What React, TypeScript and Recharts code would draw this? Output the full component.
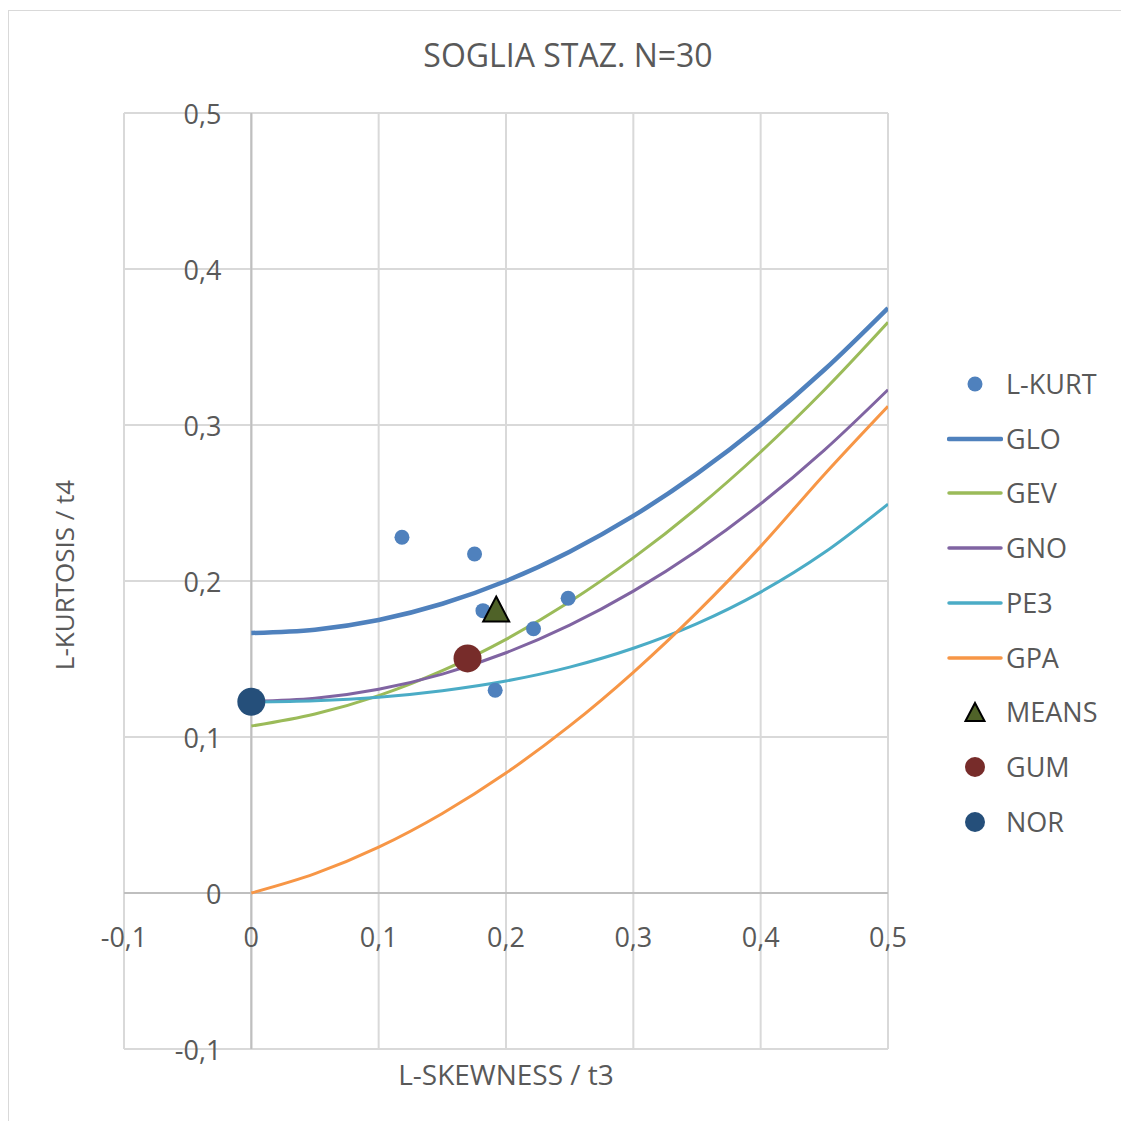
import React from 'react';
import {
  ComposedChart,
  Line,
  Scatter,
  XAxis,
  YAxis,
  CartesianGrid,
  ReferenceLine,
} from 'recharts';

// ---------- data ----------
const T3 = [0, 0.05, 0.1, 0.15, 0.2, 0.25, 0.3, 0.35, 0.4, 0.45, 0.5];
const GLO = [0.1667, 0.1688, 0.175, 0.1854, 0.2, 0.2188, 0.2417, 0.2688, 0.3, 0.3354, 0.375];
const GEV = [0.107, 0.1147, 0.1265, 0.1425, 0.1626, 0.1867, 0.2148, 0.2468, 0.2827, 0.3224, 0.3658];
const GNO = [0.1228, 0.1248, 0.1306, 0.1403, 0.154, 0.1717, 0.1935, 0.2194, 0.2495, 0.2839, 0.3226];
const PE3 = [0.1224, 0.1232, 0.1255, 0.1297, 0.1359, 0.1448, 0.1569, 0.1727, 0.1929, 0.2182, 0.2493];
const GPA = [0, 0.0124, 0.0294, 0.051, 0.0769, 0.1071, 0.1415, 0.1799, 0.2222, 0.2683, 0.312];

const LKURT_T3 = [0.1183, 0.1753, 0.1819, 0.1915, 0.2216, 0.2488];
const LKURT_T4 = [0.228, 0.2173, 0.181, 0.13, 0.1694, 0.1889];
const MEANS = [{ x: 0.1923, y: 0.182 }];
const GUM = [{ x: 0.1698, y: 0.1504 }];
const NOR = [{ x: 0, y: 0.1226 }];

const X_TICKS = [-0.1, 0, 0.1, 0.2, 0.3, 0.4, 0.5];
const Y_TICKS = [-0.1, 0, 0.1, 0.2, 0.3, 0.4, 0.5];

const TITLE = 'SOGLIA STAZ. N=30';
const X_TITLE = 'L-SKEWNESS / t3';
const Y_TITLE = 'L-KURTOSIS / t4';

// ---------- styling / layout ----------
const FONT = '"Open Sans", sans-serif';
const TEXT = '#595959';
const C_LKURT = '#4F81BD';
const C_GLO = '#4F81BD';
const C_GEV = '#9BBB59';
const C_GNO = '#8064A2';
const C_PE3 = '#4BACC6';
const C_GPA = '#F79646';
const C_MEANS = '#4F6228';
const C_GUM = '#772C2A';
const C_NOR = '#254F7A';

const W = 1112;
const H = 1110;
const M = { top: 102, right: 233, bottom: 71, left: 114 };
const AX_Y_W = 1;
const AX_X_H = 1;
const PLOT_L = M.left + AX_Y_W;
const PLOT_W = W - PLOT_L - M.right;
const PLOT_H = H - M.top - M.bottom - AX_X_H;
const X_MIN = -0.1, X_MAX = 0.5, Y_MIN = -0.1, Y_MAX = 0.5;
const ZERO_X = PLOT_L + (PLOT_W * (0 - X_MIN)) / (X_MAX - X_MIN);
const ZERO_Y = M.top + (PLOT_H * (Y_MAX - 0)) / (Y_MAX - Y_MIN);

const fmt = (v: number) => String(Math.round(v * 10) / 10).replace('.', ',');

const curve = (ys: number[]) => T3.map((x, i) => ({ x, y: ys[i] }));
const lkurt = LKURT_T3.map((x, i) => ({ x, y: LKURT_T4[i] }));

const XTick = (props: any) => (
  <text
    x={props.x}
    y={ZERO_Y + 43}
    textAnchor="middle"
    dominantBaseline="central"
    fontFamily={FONT}
    fontSize={27}
    fill={TEXT}
  >
    {fmt(props.payload.value)}
  </text>
);

const YTick = (props: any) => (
  <text
    x={ZERO_X - 30}
    y={props.y}
    textAnchor="end"
    dominantBaseline="central"
    fontFamily={FONT}
    fontSize={27}
    fill={TEXT}
  >
    {fmt(props.payload.value)}
  </text>
);

const XTitle = (props: any) => {
  const vb = props.viewBox || {};
  return (
    <text
      x={vb.x + vb.width / 2}
      y={vb.y + 25}
      textAnchor="middle"
      dominantBaseline="central"
      fontFamily={FONT}
      fontSize={28}
      fill={TEXT}
    >
      {X_TITLE}
    </text>
  );
};

const YTitle = (props: any) => {
  const vb = props.viewBox || {};
  const cx = vb.x + vb.width - 60;
  const cy = vb.y + vb.height / 2 - 6;
  return (
    <text
      x={cx}
      y={cy}
      textAnchor="middle"
      dominantBaseline="central"
      transform={`rotate(-90 ${cx} ${cy})`}
      fontFamily={FONT}
      fontSize={26}
      fill={TEXT}
    >
      {Y_TITLE}
    </text>
  );
};

const dotShape = (r: number, fill: string) => (props: any) => (
  <circle cx={props.cx} cy={props.cy} r={r} fill={fill} />
);

const triShape = (props: any) => {
  const { cx, cy } = props;
  const w = 26;
  const h = 25;
  return (
    <polygon
      points={`${cx},${cy - h / 2} ${cx + w / 2},${cy + h / 2} ${cx - w / 2},${cy + h / 2}`}
      fill={C_MEANS}
      stroke="#000"
      strokeWidth={2}
      strokeLinejoin="miter"
    />
  );
};

type LegendItem = { name: string; kind: 'dot' | 'line' | 'tri'; color: string; size: number };
const LEGEND: LegendItem[] = [
  { name: 'L-KURT', kind: 'dot', color: C_LKURT, size: 7.5 },
  { name: 'GLO', kind: 'line', color: C_GLO, size: 4.5 },
  { name: 'GEV', kind: 'line', color: C_GEV, size: 3.5 },
  { name: 'GNO', kind: 'line', color: C_GNO, size: 3.5 },
  { name: 'PE3', kind: 'line', color: C_PE3, size: 3.5 },
  { name: 'GPA', kind: 'line', color: C_GPA, size: 3.5 },
  { name: 'MEANS', kind: 'tri', color: C_MEANS, size: 20 },
  { name: 'GUM', kind: 'dot', color: C_GUM, size: 10 },
  { name: 'NOR', kind: 'dot', color: C_NOR, size: 10 },
];

const LegendBox = () => (
  <div style={{ position: 'absolute', left: 938, top: 345.6, width: 170 }}>
    {LEGEND.map((it) => (
      <div key={it.name} style={{ height: 54.75, display: 'flex', alignItems: 'center' }}>
        <svg width={56} height={30} style={{ display: 'block', flex: '0 0 56px' }}>
          {it.kind === 'line' && (
            <line x1={2} y1={15} x2={54} y2={15} stroke={it.color} strokeWidth={it.size} strokeLinecap="round" />
          )}
          {it.kind === 'dot' && <circle cx={28} cy={15} r={it.size} fill={it.color} />}
          {it.kind === 'tri' && (
            <polygon points="28,6 37.5,24 18.5,24" fill={it.color} stroke="#000" strokeWidth={2} />
          )}
        </svg>
        <span
          style={{
            marginLeft: 3,
            fontFamily: FONT,
            fontSize: 27,
            color: TEXT,
            lineHeight: '30px',
            whiteSpace: 'nowrap',
          }}
        >
          {it.name}
        </span>
      </div>
    ))}
  </div>
);

export default function App() {
  return (
    <div
      style={{
        position: 'absolute',
        left: 8,
        top: 10,
        width: 1113,
        height: 1111,
        borderLeft: '1px solid #d9d9d9',
        borderTop: '1px solid #d9d9d9',
        boxSizing: 'border-box',
        background: '#fff',
        overflow: 'hidden',
      }}
    >
      <div
        style={{
          position: 'absolute',
          left: 259,
          top: 28,
          width: 600,
          textAlign: 'center',
          fontFamily: FONT,
          fontSize: 32,
          lineHeight: '32px',
          color: TEXT,
        }}
      >
        {TITLE}
      </div>
      <div style={{ position: 'absolute', left: 0, top: 0 }}>
        <ComposedChart width={W} height={H} margin={M}>
          <CartesianGrid stroke="#d9d9d9" strokeWidth={2} horizontal vertical />
          <XAxis
            type="number"
            dataKey="x"
            domain={[X_MIN, X_MAX]}
            ticks={X_TICKS}
            interval={0}
            height={AX_X_H}
            axisLine={false}
            tickLine={false}
            tick={XTick}
            allowDataOverflow
            label={<XTitle />}
          />
          <YAxis
            type="number"
            dataKey="y"
            domain={[Y_MIN, Y_MAX]}
            ticks={Y_TICKS}
            interval={0}
            width={AX_Y_W}
            axisLine={false}
            tickLine={false}
            tick={YTick}
            allowDataOverflow
            label={<YTitle />}
          />
          <ReferenceLine x={0} stroke="#bfbfbf" strokeWidth={2} />
          <ReferenceLine y={0} stroke="#bfbfbf" strokeWidth={2} />
          <Line data={curve(GLO)} dataKey="y" name="GLO" type="monotone" stroke={C_GLO} strokeWidth={4.5} dot={false} isAnimationActive={false} />
          <Line data={curve(GEV)} dataKey="y" name="GEV" type="monotone" stroke={C_GEV} strokeWidth={3} dot={false} isAnimationActive={false} />
          <Line data={curve(GNO)} dataKey="y" name="GNO" type="monotone" stroke={C_GNO} strokeWidth={3} dot={false} isAnimationActive={false} />
          <Line data={curve(PE3)} dataKey="y" name="PE3" type="monotone" stroke={C_PE3} strokeWidth={3} dot={false} isAnimationActive={false} />
          <Line data={curve(GPA)} dataKey="y" name="GPA" type="monotone" stroke={C_GPA} strokeWidth={3} dot={false} isAnimationActive={false} />
          <Scatter data={lkurt} dataKey="y" name="L-KURT" shape={dotShape(7.5, C_LKURT)} isAnimationActive={false} />
          <Scatter data={MEANS} dataKey="y" name="MEANS" shape={triShape} isAnimationActive={false} />
          <Scatter data={GUM} dataKey="y" name="GUM" shape={dotShape(14, C_GUM)} isAnimationActive={false} />
          <Scatter data={NOR} dataKey="y" name="NOR" shape={dotShape(14, C_NOR)} isAnimationActive={false} />
        </ComposedChart>
      </div>
      <LegendBox />
    </div>
  );
}
